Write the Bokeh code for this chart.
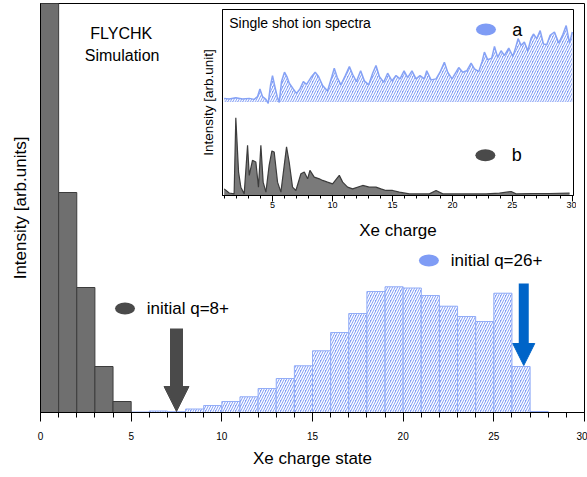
from bokeh.plotting import figure
from bokeh.models import (Range1d, SingleIntervalTicker, FixedTicker, Arrow, NormalHead,
                          GridBox, ColumnDataSource)
from bokeh.core.properties import value
from bokeh.embed import file_html
from bokeh.resources import INLINE

FONT = "Liberation Sans"

# ---------------- main histogram data (FLYCHK simulation) ----------------
dark_charge = [0, 1, 2, 3, 4]
dark_intensity = [520, 220, 125, 46, 11]
blue_charge = list(range(5, 28))
blue_intensity = [0.5, 1.5, 0.8, 3.5, 7, 11, 15.7, 24, 34, 46.7, 61.7, 80, 99,
                  121, 125.7, 124.5, 117, 106.3, 96, 91, 119.3, 46, 1]

arrow_x = [7.5, 26.65]
arrow_top = [84, 129]
arrow_tip = [1, 47]

legend_labels = ["initial q=8+", "initial q=26+"]
legend_x = [4.66, 21.42]
legend_y = [104, 152]

# ---------------- inset data (single shot ion spectra) ----------------
spec_a_x = [0.97, 1.39, 1.94, 2.5, 3.06, 3.47, 3.75, 3.95, 4.17, 4.45, 4.64, 4.84, 5.0,
            5.2, 5.39, 5.56, 5.75, 6.0, 6.2, 6.4, 6.73, 7.0, 7.29, 7.57, 7.84, 8.2,
            8.56, 8.84, 9.18, 9.59, 9.95, 10.15, 10.4, 10.71, 11.07, 11.41, 11.68,
            12.0, 12.35, 12.66, 13.02, 13.35, 13.63, 13.91, 14.27, 14.6, 14.96, 15.3,
            15.63, 15.97, 16.27, 16.63, 16.97, 17.3, 17.66, 17.86, 18.22, 18.64, 18.97,
            19.33, 19.61, 19.97, 20.3, 20.53, 20.86, 21.2, 21.56, 21.84, 22.2, 22.48,
            22.67, 22.95, 23.28, 23.51, 23.78, 24.06, 24.34, 24.7, 25.04, 25.26, 25.48,
            25.73, 26.0, 26.29, 26.57, 26.76, 27.04, 27.32, 27.6, 27.87, 28.15, 28.51,
            28.87, 29.21, 29.49, 29.77, 30.0]
spec_a_y = [96.6, 96, 97.3, 96, 96.6, 95.6, 98.3, 106, 98.3, 95.6, 91.6, 110, 119.3,
            108.3, 98.3, 92.6, 113.3, 122.6, 118.3, 111.6, 106, 101.6, 106, 113.3, 110.6,
            117.3, 122.6, 118.3, 109.3, 104, 118.3, 126.6, 117.3, 110, 119.3, 128.3,
            120.6, 113.3, 124, 114, 110, 121.6, 129.3, 118.3, 112.6, 121.6, 114, 119.3,
            116, 124, 117.3, 124, 116, 119.3, 116, 124, 115, 116, 122.6, 132.6, 122.6,
            116, 122.6, 127.3, 122.6, 124, 131.6, 126, 123.3, 133.3, 142.6, 135, 136.6,
            148.3, 137.3, 144, 139.3, 146.6, 138.3, 146.6, 156, 149.3, 152.6, 144,
            156.6, 160.6, 156, 164, 150.6, 150, 159.3, 162.6, 151.6, 160, 169, 151.6,
            162.6]
spec_a_base = 93.3

spec_b_x = [0.97, 1.39, 1.8, 1.94, 2.17, 2.36, 2.64, 2.92, 3.06, 3.33, 3.61, 3.83, 4.03,
            4.22, 4.45, 4.72, 4.95, 5.14, 5.42, 5.7, 6.17, 6.39, 6.67, 6.95, 7.37, 7.65,
            7.93, 8.12, 8.48, 8.9, 9.18, 9.59, 10.01, 10.57, 10.85, 11.26, 11.68, 12.52,
            13.07, 13.63, 14.04, 14.46, 15.02, 15.58, 16.41, 17.38, 18.08, 18.64, 19.2,
            20.58, 21.7, 22.81, 23.93, 24.9, 25.31, 26.7, 28.09, 29.77]
spec_b_y = [6.6, 2.5, 1.6, 77.3, 23.3, 8.3, 1.6, 50, 20, 35, 33.3, 8.3, 50, 13.3, 3.3,
            30, 44.3, 43.3, 13.3, 3.3, 48.3, 33.3, 8.3, 5, 21.6, 23.3, 16.6, 25, 18.3,
            16.6, 15, 13.3, 11.6, 20, 13.3, 8.3, 6.6, 10, 8.3, 8.3, 6.6, 5, 5, 3.3, 1.6,
            1.6, 1.6, 5, 1.6, 1.6, 1.6, 1.6, 2.3, 4, 1.6, 2, 2, 2.3]

inset_legend_labels = ["a", "b"]
inset_legend_x = [22.8, 22.75]
inset_legend_y = [165, 40]

DARK_FILL = "#6f6f6f"
DARK_LINE = "#3c3c3c"
DARK_MARK = "#4a4a4a"
BLUE_FILL = "#7f9cf5"
BLUE_LINE = "#93adf7"
BLUE_ARROW = "#0064c8"

# ---------------- main figure ----------------
p = figure(width=587, height=477, output_backend="svg", toolbar_location=None,
           x_range=Range1d(0, 30), y_range=Range1d(0, 409),
           min_border_left=40, min_border_right=3, min_border_top=3, min_border_bottom=65)
p.xgrid.visible = False
p.ygrid.visible = False
p.outline_line_color = "black"
p.outline_line_alpha = 1
p.background_fill_color = "white"

p.xaxis.ticker = SingleIntervalTicker(interval=5, num_minor_ticks=5)
p.xaxis.major_tick_out = 9
p.xaxis.major_tick_in = 0
p.xaxis.minor_tick_out = 5
p.xaxis.minor_tick_in = 0
p.xaxis.major_tick_line_color = "black"
p.xaxis.minor_tick_line_color = "black"
p.xaxis.axis_line_color = "black"
p.xaxis.major_label_standoff = 10
p.xaxis.major_label_text_font = FONT
p.xaxis.major_label_text_font_size = "10px"
p.xaxis.major_label_text_color = "black"
p.xaxis.axis_label = "Xe charge state"
p.xaxis.axis_label_text_font = FONT
p.xaxis.axis_label_text_font_size = "17px"
p.xaxis.axis_label_text_font_style = "normal"
p.xaxis.axis_label_text_color = "black"
p.xaxis.axis_label_standoff = 6

p.yaxis.ticker = FixedTicker(ticks=[])
p.yaxis.major_tick_out = 0
p.yaxis.minor_tick_out = 0
p.yaxis.major_label_text_font_size = "0px"
p.yaxis.axis_line_color = "black"
p.yaxis.axis_label = "Intensity [arb.units]"
p.yaxis.axis_label_text_font = FONT
p.yaxis.axis_label_text_font_size = "17px"
p.yaxis.axis_label_text_font_style = "normal"
p.yaxis.axis_label_text_color = "black"
p.yaxis.axis_label_standoff = 11

blue_src = ColumnDataSource(dict(left=blue_charge,
                                 right=[q + 1 for q in blue_charge],
                                 top=blue_intensity))
p.quad(left="left", right="right", bottom=0, top="top", source=blue_src,
       fill_color=BLUE_FILL, line_color=BLUE_LINE, line_width=1,
       hatch_pattern="/", hatch_color="white", hatch_scale=5, hatch_weight=1.4)

dark_src = ColumnDataSource(dict(left=dark_charge,
                                 right=[q + 1 for q in dark_charge],
                                 top=dark_intensity))
p.quad(left="left", right="right", bottom=0, top="top", source=dark_src,
       fill_color=DARK_FILL, line_color=DARK_LINE, line_width=1)

arrow_colors = [DARK_MARK, BLUE_ARROW]
arrow_widths = [13, 10]
head_sizes = [25, 22]
for xa, yt, yb, c, w, hs in zip(arrow_x, arrow_top, arrow_tip, arrow_colors, arrow_widths, head_sizes):
    p.add_layout(Arrow(end=NormalHead(size=hs, fill_color=c, line_color=c, line_width=1),
                       x_start=xa, y_start=yt, x_end=xa, y_end=yb,
                       line_color=c, line_width=w))

p.ellipse(x=legend_x, y=legend_y, width=20, height=12, width_units="screen",
          height_units="screen", fill_color=[DARK_MARK, BLUE_FILL], line_color=None)
p.text(x=[x + 1.2 for x in legend_x], y=legend_y, text=legend_labels,
       text_font=value(FONT), text_font_size=value("17px"), text_color="black",
       text_baseline="middle", text_align="left")

p.text(x=[4.45, 4.5], y=[379, 357], text=["FLYCHK", "Simulation"],
       text_font=value(FONT), text_font_size=value("16px"), text_color="black",
       text_baseline="middle", text_align="center")

# ---------------- inset figure ----------------
q = figure(width=394, height=254, output_backend="svg", toolbar_location=None,
           x_range=Range1d(0.83, 30.1), y_range=Range1d(0, 185),
           min_border_left=25, min_border_right=2, min_border_top=1, min_border_bottom=47,
           margin=(6, 0, 0, 182))
q.xgrid.visible = False
q.ygrid.visible = False
q.outline_line_color = "black"
q.outline_line_alpha = 1
q.background_fill_color = "white"
q.border_fill_alpha = 0

q.xaxis.ticker = SingleIntervalTicker(interval=5, num_minor_ticks=5)
q.xaxis.major_tick_out = 6
q.xaxis.major_tick_in = 0
q.xaxis.minor_tick_out = 3
q.xaxis.minor_tick_in = 0
q.xaxis.major_tick_line_color = "black"
q.xaxis.minor_tick_line_color = "black"
q.xaxis.axis_line_color = "black"
q.xaxis.major_label_standoff = 0
q.xaxis.major_label_text_font = FONT
q.xaxis.major_label_text_font_size = "9px"
q.xaxis.major_label_text_color = "black"
q.xaxis.axis_label = "Xe charge"
q.xaxis.axis_label_text_font = FONT
q.xaxis.axis_label_text_font_size = "17px"
q.xaxis.axis_label_text_font_style = "normal"
q.xaxis.axis_label_text_color = "black"
q.xaxis.axis_label_standoff = 10

q.yaxis.ticker = FixedTicker(ticks=[])
q.yaxis.major_tick_out = 0
q.yaxis.minor_tick_out = 0
q.yaxis.major_label_text_font_size = "0px"
q.yaxis.axis_line_color = "black"
q.yaxis.axis_label = "Intensity [arb.unit]"
q.yaxis.axis_label_text_font = FONT
q.yaxis.axis_label_text_font_size = "13.5px"
q.yaxis.axis_label_text_font_style = "normal"
q.yaxis.axis_label_text_color = "black"
q.yaxis.axis_label_standoff = 7

q.varea(x=spec_a_x, y1=[spec_a_base] * len(spec_a_x), y2=spec_a_y,
        fill_color=BLUE_FILL, hatch_pattern="/", hatch_color="white",
        hatch_scale=5, hatch_weight=1.4)
q.line(x=spec_a_x, y=spec_a_y, line_color="#86a2f5", line_width=1.5)

q.varea(x=spec_b_x, y1=[0] * len(spec_b_x), y2=spec_b_y, fill_color="#7a7a7a")
q.line(x=spec_b_x, y=spec_b_y, line_color=DARK_LINE, line_width=1.2)

q.ellipse(x=inset_legend_x, y=inset_legend_y, width=20, height=12, width_units="screen",
          height_units="screen", fill_color=[BLUE_FILL, DARK_MARK], line_color=None)
q.text(x=[x + 2.2 for x in inset_legend_x], y=inset_legend_y, text=inset_legend_labels,
       text_font=value(FONT), text_font_size=value("18px"), text_color="black",
       text_baseline="middle", text_align="left")
q.text(x=[1.39], y=[171.6], text=["Single shot ion spectra"],
       text_font=value(FONT), text_font_size=value("14px"), text_color="black",
       text_baseline="middle", text_align="left")

layout = GridBox(children=[(p, 0, 0), (q, 0, 0)])

open("out.html", "w").write(file_html(layout, INLINE))
